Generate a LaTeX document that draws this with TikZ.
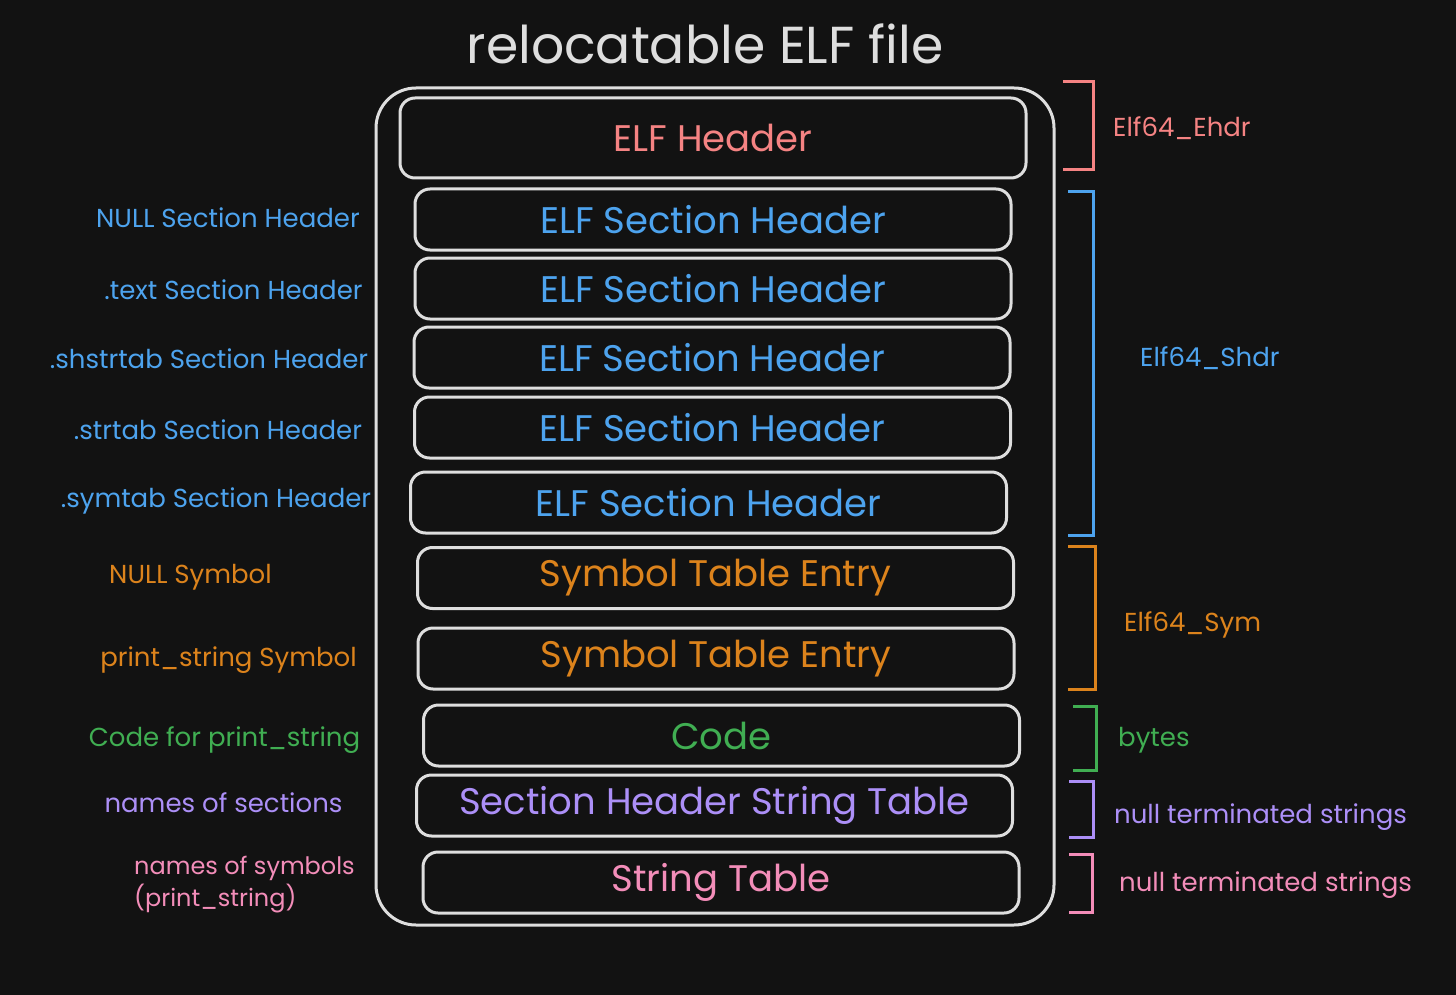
\documentclass[tikz,border=0pt]{standalone}
\usepackage{fontspec}
\setmainfont{Poppins}

\definecolor{fond}{HTML}{121212}
\definecolor{trait}{HTML}{DEDEDE}
\definecolor{cEhdr}{HTML}{F58383}
\definecolor{cShdr}{HTML}{4DA3EE}
\definecolor{cSym}{HTML}{DC831C}
\definecolor{cCode}{HTML}{40AE52}
\definecolor{cShstr}{HTML}{AC8FF7}
\definecolor{cStr}{HTML}{F38DB9}

\tikzset{
  boite/.style={draw=trait, line width=3pt, rounded corners=15pt,
    inner sep=0pt, minimum width=596pt, minimum height=61pt,
    font=\fontsize{37}{44}\selectfont},
  etiquette/.style={inner sep=0pt, font=\fontsize{26}{31}\selectfont},
  crochet/.style={line width=3pt}
}

\begin{document}
\begin{tikzpicture}[x=1pt,y=-1pt]

% Fond
\fill[fond] (0,0) rectangle (1456,995);
\useasboundingbox (0,0) rectangle (1456,995);

% Titre
\node[text=trait, font=\fontsize{52}{60}\selectfont] (titre)
at (705,44)
{relocatable ELF file};

% Fichier
\draw[trait, line width=3pt, rounded corners=40pt]
(376,88)
rectangle
(1054,925);

% En-tete ELF
\node[boite, text=cEhdr, minimum width=626pt, minimum height=80pt] (ehdr)
at (713,138)
{ELF Header};

% En-tetes de section
\foreach \n/\x/\y/\lx/\ly/\txt in {
  1/713/219.5/228/218/{NULL Section Header},
  2/713/288.5/233.5/290/{.text Section Header},
  3/712/357.5/209/359/{.shstrtab Section Header},
  4/712.5/427.5/218/430/{.strtab Section Header},
  5/708.5/502.5/216/501/{.symtab Section Header}}
{
    \node[boite, text=cShdr] (shdr\n)
    at (\x,\y)
    {ELF Section Header};
    \node[etiquette, text=cShdr] (lshdr\n)
    at (\lx,\ly)
    {\txt};
}

% Symboles
\foreach \n/\x/\y/\lx/\ly/\txt in {
  1/715.5/578/190.5/577/{NULL Symbol},
  2/716/658.5/228.5/660/{print\_string Symbol}}
{
    \node[boite, text=cSym] (sym\n)
    at (\x,\y)
    {Symbol Table Entry};
    \node[etiquette, text=cSym] (lsym\n)
    at (\lx,\ly)
    {\txt};
}

% Code
\node[boite, text=cCode] (code)
at (721.5,735.5)
{Code};
\node[etiquette, text=cCode] (lcode)
at (224.5,740)
{Code for print\_string};

% Tables de chaines
\node[boite, text=cShstr] (shstr)
at (714.5,805.5)
{Section Header String Table};
\node[etiquette, text=cShstr] (lshstr)
at (223.5,803)
{names of sections};

\node[boite, text=cStr] (str)
at (721,882.5)
{String Table};
\node[etiquette, text=cStr, anchor=west, align=left,
  font=\fontsize{24}{32}\selectfont] (lstr)
at (134,885)
{names of symbols\\(print\_string)};

% Crochets
\foreach \xt/\xv/\yh/\yb/\c in {
  1063/1093/82/170/cEhdr,
  1068/1093/192/535/cShdr,
  1068/1095/546/689/cSym,
  1073/1096/706/770/cCode,
  1069/1093/781/837/cShstr,
  1069/1092/854/912/cStr}
{
    \draw[crochet, draw=\c]
    (\xt,\yh) -- (\xv,\yh)
    --
    (\xv,\yb) -- (\xt,\yb);
}

% Types
\node[etiquette, text=cEhdr, anchor=west] (tehdr) at (1113,128) {Elf64\_Ehdr};
\node[etiquette, text=cShdr, anchor=west] (tshdr) at (1140,358) {Elf64\_Shdr};
\node[etiquette, text=cSym, anchor=west] (tsym) at (1124,625) {Elf64\_Sym};
\node[etiquette, text=cCode, anchor=west] (tcode) at (1118,740) {bytes};
\node[etiquette, text=cShstr, anchor=west] (tshstr) at (1114,817) {null terminated strings};
\node[etiquette, text=cStr, anchor=west] (tstr) at (1119,885) {null terminated strings};

\end{tikzpicture}
\end{document}
